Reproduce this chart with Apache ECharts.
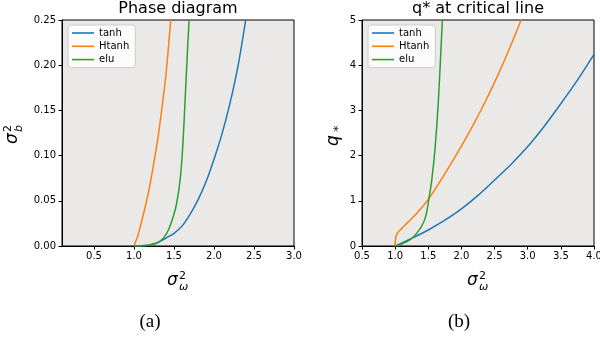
<!DOCTYPE html>
<html><head><meta charset="utf-8">
<script src="https://cdn.jsdelivr.net/npm/echarts@6/dist/echarts.min.js"></script>
<style>html,body{margin:0;padding:0;background:#fff}#c{width:600px;height:341px}</style>
</head><body><div id="c"></div>
<script>
// Panel (a): phase diagram, points [sigma_w^2, sigma_b^2]
const phaseTanh  = [[1.0,0],[1.1,0.0003],[1.2,0.0013],[1.3,0.004],[1.4,0.0088],[1.5,0.014],[1.6,0.022],[1.7,0.035],[1.8,0.051],[1.9,0.071],[2.0,0.096],[2.1,0.124],[2.2,0.158],[2.3,0.199],[2.396,0.25]];
const phaseHtanh = [[1.0,0],[1.05,0.012],[1.1,0.029],[1.15,0.047],[1.2,0.068],[1.25,0.093],[1.3,0.12],[1.35,0.153],[1.4,0.19],[1.459,0.25]];
const phaseElu   = [[1.0,0],[1.1,0.0003],[1.2,0.0012],[1.283,0.003],[1.367,0.0085],[1.43,0.0177],[1.49,0.0324],[1.533,0.047],[1.575,0.072],[1.6,0.097],[1.625,0.136],[1.646,0.175],[1.667,0.213],[1.688,0.25]];
// Panel (b): q* at critical line, points [sigma_w^2, q*]
const qTanh  = [[1.0,0],[1.25,0.17],[1.5,0.354],[1.75,0.57],[2.0,0.82],[2.25,1.12],[2.5,1.46],[2.75,1.81],[3.0,2.2],[3.25,2.65],[3.5,3.15],[3.75,3.67],[4.0,4.24]];
const qHtanh = [[1.0,0],[1.001,0.06],[1.004,0.13],[1.011,0.2],[1.025,0.26],[1.045,0.305],[1.073,0.35],[1.12,0.42],[1.174,0.5],[1.25,0.61],[1.325,0.72],[1.4,0.85],[1.5,1.03],[1.7,1.48],[1.9,1.96],[2.1,2.47],[2.3,3.02],[2.5,3.62],[2.7,4.28],[2.9,5.0]];
const qElu   = [[1.0,0],[1.06,0.02],[1.12,0.06],[1.19,0.11],[1.25,0.17],[1.3,0.24],[1.35,0.33],[1.4,0.44],[1.45,0.6],[1.48,0.78],[1.51,1.05],[1.55,1.43],[1.6,2.12],[1.65,3.15],[1.7,4.62],[1.712,5.0]];

const seriesNames = ['tanh','Htanh','elu'];
const seriesColors = ['#1f77b4','#ff7f0e','#2ca02c'];
const xTicksA = [0.5,1.0,1.5,2.0,2.5,3.0];
const titles = ['Phase diagram','q* at critical line'];
const captions = ['(a)','(b)'];

const FONT = 'DejaVu Sans';
const chart = echarts.init(document.getElementById('c'), null, {renderer:'canvas'});

function axisBase(extra, margin){
  return Object.assign({
    type:'value', axisLine:{show:true,onZero:false,lineStyle:{color:'#000',width:1}},
    axisTick:{show:true,inside:false,length:3.5,lineStyle:{color:'#000'}},
    axisLabel:{color:'#000',fontFamily:FONT,fontSize:10,margin:margin,showMinLabel:true,showMaxLabel:true,hideOverlap:false},
    splitLine:{show:false}
  }, extra);
}

const grids = [
  {left:62, right:306, top:20, bottom:95, show:true, backgroundColor:'#ebe8e8', borderColor:'#000', borderWidth:1, containLabel:false, outerBoundsMode:'none'},
  {left:362, right:6, top:20, bottom:95, show:true, backgroundColor:'#ebe8e8', borderColor:'#000', borderWidth:1, containLabel:false, outerBoundsMode:'none'}
];

const xAxes = [
  axisBase({gridIndex:0, min:0.1, max:3.0,
    axisTick:{show:true,length:3.5,lineStyle:{color:'#000'},customValues:xTicksA},
    axisLabel:{color:'#000',fontFamily:FONT,fontSize:10,margin:5,customValues:xTicksA,formatter:v=>v.toFixed(1)}}, 5),
  axisBase({gridIndex:1, min:0.5, max:4.0, interval:0.5,
    axisLabel:{color:'#000',fontFamily:FONT,fontSize:10,margin:5,showMinLabel:true,showMaxLabel:true,hideOverlap:false,formatter:v=>v.toFixed(1)}}, 5)
];
const yAxes = [
  axisBase({gridIndex:0, min:0, max:0.25, interval:0.05,
    axisLabel:{color:'#000',fontFamily:FONT,fontSize:10,margin:6,showMinLabel:true,showMaxLabel:true,formatter:v=>v.toFixed(2)}}, 6),
  axisBase({gridIndex:1, min:0, max:5, interval:1}, 6)
];

const panels = [[phaseTanh,phaseHtanh,phaseElu],[qTanh,qHtanh,qElu]];
const series = [];
panels.forEach((p,gi)=>{
  p.forEach((d,si)=>{
    series.push({type:'line', name:seriesNames[si], xAxisIndex:gi, yAxisIndex:gi, data:d,
      color:seriesColors[si], showSymbol:false, symbol:'none', smooth:0.3,
      lineStyle:{width:1.5,color:seriesColors[si]}, clip:true, z:3});
  });
});

function legend(left){
  return {orient:'vertical', left:left, top:25, data:seriesNames, icon:'rect', itemWidth:22, itemHeight:1.6,
    itemGap:3.3, padding:[3,6,3,4], backgroundColor:'rgba(255,255,255,0.85)', borderColor:'#cccccc', borderWidth:1,
    borderRadius:3, selectedMode:false, textStyle:{fontFamily:FONT,fontSize:10,color:'#000'}};
}

// text placed with top alignment; baseline is ~0.8em below top
function t(text, x, baseY, size, italic){
  return {type:'text', x:x, y:baseY - 0.8*size, style:{text:text, font:(italic?'italic ':'')+size+'px "DejaVu Sans"', fill:'#000', verticalAlign:'top', align:'left'}};
}
function sigmaLabel(sub, x, y, rot){
  return {type:'group', x:x, y:y, rotation:rot, children:[
    t('σ', -10, 0, 17, true),
    t('2', 2, -6.3, 11, false),
    t(sub, 2, 4, 11, true)
  ]};
}

const graphic = [
  {type:'text', x:178, y:9, style:{text:titles[0], font:'16px "DejaVu Sans"', fill:'#000', align:'center', verticalAlign:'middle'}},
  {type:'text', x:478, y:9, style:{text:titles[1], font:'16px "DejaVu Sans"', fill:'#000', align:'center', verticalAlign:'middle'}},
  sigmaLabel('ω', 177, 286, 0),
  sigmaLabel('ω', 477, 286, 0),
  sigmaLabel('b', 18, 134, Math.PI/2),
  {type:'group', x:339, y:135, rotation:Math.PI/2, children:[
    t('q', -11, 0, 17, true),
    t('*', 3, 4, 13, false)
  ]},
  {type:'text', x:150, y:322, style:{text:captions[0], font:'19px "Liberation Serif"', fill:'#000', align:'center', verticalAlign:'middle'}},
  {type:'text', x:459, y:322, style:{text:captions[1], font:'19px "Liberation Serif"', fill:'#000', align:'center', verticalAlign:'middle'}}
];

chart.setOption({
  animation:false,
  backgroundColor:'#fff',
  grid:grids, xAxis:xAxes, yAxis:yAxes, series:series,
  legend:[legend(68), legend(368)],
  graphic:graphic
});
</script></body></html>
